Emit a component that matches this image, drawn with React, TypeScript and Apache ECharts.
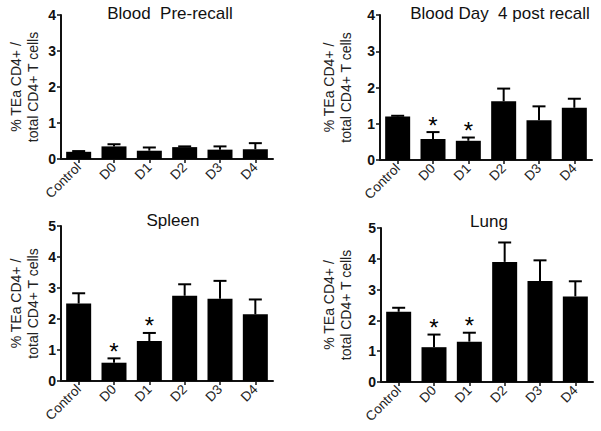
import React, { useEffect, useRef } from "react";
import * as echarts from "echarts";

const categories = ["Control", "D0", "D1", "D2", "D3", "D4"];

const titles = ["Blood  Pre-recall", "Blood Day  4 post recall", "Spleen", "Lung"];

const bloodPreMean = [0.2, 0.35, 0.23, 0.33, 0.26, 0.27];
const bloodPreSem = [0.02, 0.06, 0.09, 0.02, 0.09, 0.17];
const bloodPreSig = [0, 0, 0, 0, 0, 0];

const bloodPostMean = [1.2, 0.58, 0.53, 1.62, 1.1, 1.44];
const bloodPostSem = [0.02, 0.19, 0.09, 0.35, 0.38, 0.25];
const bloodPostSig = [0, 1, 1, 0, 0, 0];

const spleenMean = [2.5, 0.59, 1.29, 2.75, 2.65, 2.15];
const spleenSem = [0.33, 0.14, 0.26, 0.37, 0.58, 0.48];
const spleenSig = [0, 1, 1, 0, 0, 0];

const lungMean = [2.28, 1.13, 1.31, 3.9, 3.28, 2.78];
const lungSem = [0.13, 0.41, 0.29, 0.63, 0.67, 0.49];
const lungSig = [0, 1, 1, 0, 0, 0];

const yMax = [4, 4, 5, 5];
const yTicks = ["0", "1", "2", "3", "4", "5"];

const yName = "% TEa CD4+ /\ntotal CD4+ T cells";

const FONT = "'Liberation Sans', Arial, sans-serif";

export default function App() {
  const ref = useRef<HTMLDivElement>(null);

  useEffect(() => {
    if (!ref.current) return;
    const chart = echarts.init(ref.current, undefined, { renderer: "svg" });

    const panels = [
      { mean: bloodPreMean, sem: bloodPreSem, sig: bloodPreSig },
      { mean: bloodPostMean, sem: bloodPostSem, sig: bloodPostSig },
      { mean: spleenMean, sem: spleenSem, sig: spleenSig },
      { mean: lungMean, sem: lungSem, sig: lungSig },
    ];

    const grids = [
      { left: 61, top: 15, width: 212, height: 144 },
      { left: 380, top: 15, width: 212, height: 145 },
      { left: 61, top: 226, width: 212, height: 155 },
      { left: 381, top: 228, width: 212, height: 154 },
    ];
    const nameGaps = [20, 26, 20, 27];
    const titlePos = [
      { left: 170, top: 5 },
      { left: 500, top: 5 },
      { left: 173, top: 212 },
      { left: 489, top: 213 },
    ];

    const xAxes = grids.map((_, i) => ({
      type: "category",
      gridIndex: i,
      data: categories,
      boundaryGap: true,
      axisLine: { show: true, lineStyle: { color: "#111", width: 2 } },
      axisTick: { show: true, alignWithLabel: true, length: 4, lineStyle: { color: "#111", width: 1.5 } },
      axisLabel: {
        rotate: 45,
        margin: 6,
        fontSize: 13.5,
        color: "#222",
        fontFamily: FONT,
        interval: 0,
      },
    }));

    const yAxes = grids.map((_, i) => ({
      type: "value",
      gridIndex: i,
      min: 0,
      max: yMax[i],
      interval: 1,
      name: yName,
      nameLocation: "middle",
      nameRotate: 90,
      nameGap: nameGaps[i],
      nameTextStyle: { fontSize: 14, lineHeight: 17, color: "#222", fontFamily: FONT, align: "center" },
      axisLine: { show: true, lineStyle: { color: "#111", width: 2 } },
      axisTick: { show: true, length: 4, lineStyle: { color: "#111", width: 1.5 } },
      axisLabel: {
        margin: 5,
        fontSize: 14,
        color: "#111",
        fontFamily: FONT,
        fontWeight: "bold",
        formatter: (v: number) => yTicks[Math.round(v)] ?? String(v),
      },
      splitLine: { show: false },
    }));

    const series: any[] = [];
    panels.forEach((p, i) => {
      series.push({
        type: "bar",
        xAxisIndex: i,
        yAxisIndex: i,
        data: p.mean,
        barWidth: 25,
        itemStyle: { color: "#000" },
        z: 2,
      });
      series.push({
        type: "custom",
        xAxisIndex: i,
        yAxisIndex: i,
        z: 3,
        encode: { x: 0, y: 1 },
        data: categories.map((_, k) => [k, p.mean[k], p.sem[k], p.sig[k]]),
        renderItem: (params: any, api: any) => {
          const idx = api.value(0);
          const m = api.value(1);
          const s = api.value(2);
          const sig = api.value(3);
          const base = api.coord([idx, m]);
          const top = api.coord([idx, m + s]);
          const children: any[] = [
            {
              type: "line",
              shape: { x1: base[0], y1: base[1], x2: top[0], y2: top[1] },
              style: { stroke: "#000", lineWidth: 2 },
            },
            {
              type: "line",
              shape: { x1: top[0] - 6.5, y1: top[1], x2: top[0] + 6.5, y2: top[1] },
              style: { stroke: "#000", lineWidth: 2 },
            },
          ];
          if (sig) {
            children.push({
              type: "text",
              x: top[0],
              y: top[1] - 7,
              style: {
                text: "*",
                fontSize: 24,
                fontFamily: FONT,
                fill: "#000",
                align: "center",
                verticalAlign: "middle",
              },
            });
          }
          return { type: "group", children };
        },
      });
    });

    chart.setOption({
      animation: false,
      backgroundColor: "#fff",
      title: titles.map((t, i) => ({
        text: t,
        left: titlePos[i].left,
        top: titlePos[i].top,
        textAlign: "center",
        padding: 0,
        textStyle: { fontSize: 17, fontWeight: "normal", color: "#111", fontFamily: FONT },
      })),
      grid: grids,
      xAxis: xAxes,
      yAxis: yAxes,
      series,
    } as any);

    return () => chart.dispose();
  }, []);

  return (
    <div
      ref={ref}
      style={{ position: "fixed", left: 0, top: 0, width: 601, height: 431, background: "#fff" }}
    />
  );
}
